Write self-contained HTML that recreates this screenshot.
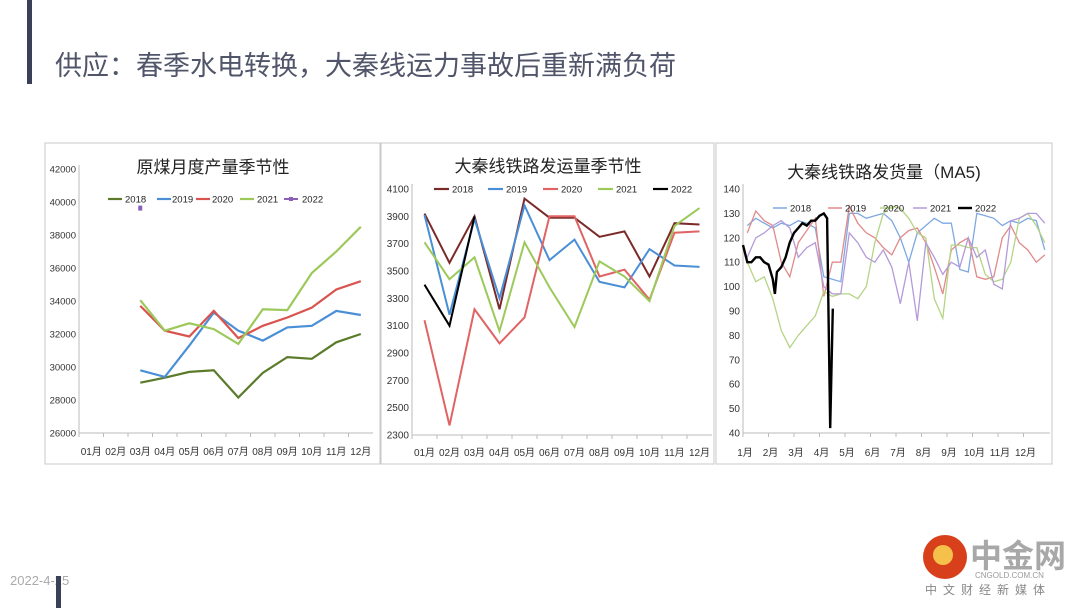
<!DOCTYPE html>
<html><head><meta charset="utf-8">
<style>
body{margin:0;background:#fff;}
#wrap{position:relative;width:1080px;height:608px;overflow:hidden;background:#fff;font-family:"Liberation Sans","Noto Sans CJK SC",sans-serif;}
svg text{font-family:"Liberation Sans","Noto Sans CJK SC",sans-serif;}
</style></head>
<body>
<div id="wrap">
<svg id="svg" width="1080" height="608" viewBox="0 0 1080 608">
  <rect x="27" y="0" width="5" height="84" fill="#3b3f58"/>
  <text x="55" y="75" font-size="27" fill="#50556a">供应：春季水电转换，大秦线运力事故后重新满负荷</text>
  <text x="10" y="585" font-size="13" fill="#aaa">2022-4-25</text>
  <rect x="56" y="576" width="5" height="32" fill="#3b3f58"/>
  <g>
    <circle cx="945" cy="557" r="22" fill="#d8401c"/>
    <circle cx="943" cy="555" r="10" fill="#f6c14a"/>
    <text x="970" y="567" font-size="32" font-weight="bold" fill="#a8a8a8">中金网</text>
    <text x="975" y="578" font-size="8" fill="#999">CNGOLD.COM.CN</text>
    <text x="925" y="594" font-size="12" fill="#888" letter-spacing="6">中文财经新媒体</text>
  </g>
  <rect x="45" y="143" width="335" height="321" fill="none" stroke="#c8c8c8"/>
  <rect x="381" y="143" width="333" height="321" fill="none" stroke="#c8c8c8"/>
  <rect x="716" y="143" width="336" height="321" fill="none" stroke="#c8c8c8"/>
  <g id="c1"></g><g id="c2"></g><g id="c3"></g>
</svg>
</div>
<script>
// ---- Chart 1 data: 原煤月度产量季节性 ----
const c1Months = ["01月","02月","03月","04月","05月","06月","07月","08月","09月","10月","11月","12月"];
const c1Ticks = [26000,28000,30000,32000,34000,36000,38000,40000,42000];
const c1Years = ["2018","2019","2020","2021","2022"];
const c1y2018 = [null,null,29050,29350,29700,29800,28150,29650,30600,30500,31500,32000];
const c1y2019 = [null,null,29800,29400,31300,33300,32200,31600,32400,32500,33400,33150];
const c1y2020 = [null,null,33700,32200,31850,33400,31750,32500,33000,33600,34700,35200];
const c1y2021 = [null,null,34050,32200,32650,32300,31400,33500,33450,35700,37000,38500];
const c1y2022 = [null,null,39600,null,null,null,null,null,null,null,null,null];
// ---- Chart 2 data: 大秦线铁路发运量季节性 ----
const c2Months = ["01月","02月","03月","04月","05月","06月","07月","08月","09月","10月","11月","12月"];
const c2Ticks = [2300,2500,2700,2900,3100,3300,3500,3700,3900,4100];
const c2Years = ["2018","2019","2020","2021","2022"];
const c2y2018 = [3920,3560,3900,3220,4030,3890,3890,3750,3790,3460,3850,3840];
const c2y2019 = [3910,3180,3880,3300,3980,3580,3730,3420,3380,3660,3540,3530];
const c2y2020 = [3140,2370,3220,2970,3160,3900,3900,3460,3510,3290,3780,3790];
const c2y2021 = [3710,3440,3600,3060,3710,3380,3090,3570,3460,3280,3830,3960];
const c2y2022 = [3400,3100,3900];
// ---- Chart 3 data: 大秦线铁路发货量（MA5) (3 samples per month) ----
const c3Months = ["1月","2月","3月","4月","5月","6月","7月","8月","9月","10月","11月","12月"];
const c3Ticks = [40,50,60,70,80,90,100,110,120,130,140];
const c3Years = ["2018","2019","2020","2021","2022"];
const c3y2018 = [125,128,126,124,126,125,127,126,124,104,103,102,130,130,128,129,130,127,120,110,122,125,128,126,126,107,106,130,129,128,125,127,126,128,127,115];
const c3y2019 = [122,131,127,125,110,104,118,123,128,96,110,110,133,126,122,120,116,113,120,123,124,118,108,97,115,118,120,104,103,104,120,125,118,115,110,113];
const c3y2020 = [110,102,104,95,82,75,80,84,88,98,96,97,97,95,100,118,130,133,132,128,122,120,95,87,117,117,116,116,105,102,103,110,128,130,125,118];
const c3y2021 = [112,120,122,125,127,124,112,116,118,100,97,97,122,118,112,110,115,108,93,110,86,118,112,105,110,108,120,112,115,101,99,127,128,130,130,126];
const c3t2022 = [0,0.17,0.33,0.5,0.67,0.83,1.0,1.17,1.25,1.33,1.5,1.67,1.83,2.0,2.17,2.33,2.5,2.67,2.83,3.0,3.17,3.3,3.42,3.52];
const c3y2022 = [117,110,110,112,112,110,109,103,97,106,108,112,118,122,124,126,125,127,127,129,130,128,42,91];

const NS="http://www.w3.org/2000/svg";
function mk(parent,tag,attrs,text){const e=document.createElementNS(NS,tag);for(const k in attrs)e.setAttribute(k,attrs[k]);if(text!==undefined)e.textContent=text;parent.appendChild(e);return e;}
function poly(vals,xf,yf){let pts=[];vals.forEach((v,i)=>{if(v!==null)pts.push(xf(i).toFixed(1)+","+yf(v).toFixed(1));});return pts.join(" ");}

// ===== Chart 1 =====
(function(){
const g=document.getElementById('c1');
const x0=79,x1=373,yTop=169,yBot=433,vmin=26000,vmax=42000;
const bw=(x1-x0)/12;
const X=i=>x0+bw*(i+0.5);
const Y=v=>yBot-(v-vmin)/(vmax-vmin)*(yBot-yTop);
let t=mk(g,'text',{x:213,y:173,'font-size':17,'text-anchor':'middle',fill:'#222'},'原煤月度产量季节性');


let ax=mk(g,'line',{x1:x0,y1:yTop-4,x2:x0,y2:yBot,stroke:'#bbb'});


let bx=mk(g,'line',{x1:x0,y1:yBot,x2:x1,y2:yBot,stroke:'#bbb'});


c1Ticks.forEach(v=>{
 let l=mk(g,'text',{x:x0-3,y:Y(v)+3.5,'font-size':9.5,'text-anchor':'end',fill:'#333'},String(v));
 
 
});
c1Months.forEach((m,i)=>{
 let tk=mk(g,'line',{x1:x0+bw*i,y1:yBot,x2:x0+bw*i,y2:yBot+4,stroke:'#bbb'});
 
 
 let l=mk(g,'text',{x:X(i),y:455,'font-size':10,'text-anchor':'middle',fill:'#333'},m);
 
 
});
const series=[c1y2018,c1y2019,c1y2020,c1y2021];
const cols=['#5b7b2b','#4a8fd6','#d9534f','#9cc95a'];
const names=['line-2018','line-2019','line-2020','line-2021'];
series.forEach((s,k)=>{
 let p=mk(g,'polyline',{points:poly(s,X,Y),fill:'none',stroke:cols[k],'stroke-width':2.2});
 
 
});
c1y2022.forEach((v,i)=>{if(v!==null){
 let r=mk(g,'rect',{x:X(i)-2,y:Y(v)-3,width:4,height:5,fill:'#8a5fb8'});
 
 
}});
const lx=[108,157,196,240],tx=[125,172,212,257];
c1Years.forEach((yr,k)=>{
 if(k<4){let l=mk(g,'line',{x1:lx[k],y1:199,x2:lx[k]+14,y2:199,stroke:cols[k],'stroke-width':2.2});
 
 }
 else{let l=mk(g,'line',{x1:284,y1:199,x2:298,y2:199,stroke:'#8a5fb8','stroke-width':2});
 
 
 let r=mk(g,'rect',{x:289,y:197,width:4,height:4,fill:'#8a5fb8'});
 
 }
 let e=mk(g,'text',{x:k<4?tx[k]:302,y:202.5,'font-size':9.5,fill:'#222'},yr);
 
 
});
})();

// ===== Chart 2 =====
(function(){
const g=document.getElementById('c2');
const x0=412,x1=712,yTop=189,yBot=435,vmin=2300,vmax=4100;
const bw=(x1-x0)/12;
const X=i=>x0+bw*(i+0.5);
const Y=v=>yBot-(v-vmin)/(vmax-vmin)*(yBot-yTop);
let t=mk(g,'text',{x:548,y:172,'font-size':17,'text-anchor':'middle',fill:'#222'},'大秦线铁路发运量季节性');


let ax=mk(g,'line',{x1:x0,y1:yTop-5,x2:x0,y2:yBot,stroke:'#bbb'});


let bx=mk(g,'line',{x1:x0,y1:yBot,x2:x1,y2:yBot,stroke:'#bbb'});


c2Ticks.forEach(v=>{
 let l=mk(g,'text',{x:x0-3,y:Y(v)+3.5,'font-size':10,'text-anchor':'end',fill:'#333'},String(v));
 
 
});
c2Months.forEach((m,i)=>{
 let tk=mk(g,'line',{x1:x0+bw*i,y1:yBot,x2:x0+bw*i,y2:yBot+4,stroke:'#bbb'});
 
 
 let l=mk(g,'text',{x:X(i),y:456,'font-size':10,'text-anchor':'middle',fill:'#333'},m);
 
 
});
const series=[c2y2018,c2y2019,c2y2020,c2y2021,c2y2022];
const cols=['#7b2a2a','#4a8fd6','#e06464','#9cc95a','#000'];
series.forEach((s,k)=>{
 let p=mk(g,'polyline',{points:poly(s,X,Y),fill:'none',stroke:cols[k],'stroke-width':2});
 
 
});
const lx=[434,488,543,598,653];
c2Years.forEach((yr,k)=>{
 let l=mk(g,'line',{x1:lx[k],y1:189,x2:lx[k]+15,y2:189,stroke:cols[k],'stroke-width':2.2});
 
 
 let e=mk(g,'text',{x:lx[k]+18,y:192.5,'font-size':9.5,fill:'#222'},yr);
 
 
});
})();

// ===== Chart 3 =====
(function(){
const g=document.getElementById('c3');
const x0=743,x1=1050,yTop=189,yBot=433,vmin=40,vmax=140;
const mw=25.5;
const T=t=>x0+t*mw;
const Xs=i=>T((i+0.5)/3);
const Y=v=>yBot-(v-vmin)/(vmax-vmin)*(yBot-yTop);
let t=mk(g,'text',{x:884,y:178,'font-size':17,'text-anchor':'middle',fill:'#222'},'大秦线铁路发货量（MA5)');


let ax=mk(g,'line',{x1:x0,y1:yTop-5,x2:x0,y2:yBot,stroke:'#bbb'});


let bx=mk(g,'line',{x1:x0,y1:yBot,x2:x1,y2:yBot,stroke:'#bbb'});


c3Ticks.forEach(v=>{
 let l=mk(g,'text',{x:x0-3,y:Y(v)+3.5,'font-size':10,'text-anchor':'end',fill:'#333'},String(v));
 
 
});
c3Months.forEach((m,i)=>{
 let tk=mk(g,'line',{x1:T(i),y1:yBot,x2:T(i),y2:yBot+4,stroke:'#bbb'});
 
 
 let l=mk(g,'text',{x:T(i)+2,y:456,'font-size':10,'text-anchor':'middle',fill:'#333'},m);
 
 
});
const series=[c3y2018,c3y2019,c3y2020,c3y2021];
const cols=['#7ea8e2','#e28a8a','#b4d486','#b49ad8'];
series.forEach((s,k)=>{
 let p=mk(g,'polyline',{points:poly(s,Xs,Y),fill:'none',stroke:cols[k],'stroke-width':1.3});
 
 
});
let pts=c3y2022.map((v,i)=>T(c3t2022[i]).toFixed(1)+","+Y(v).toFixed(1)).join(" ");
let p=mk(g,'polyline',{points:pts,fill:'none',stroke:'#000','stroke-width':2.4});


const lx=[773,828,880,913,958];
const lc=cols.concat(['#000']);
c3Years.forEach((yr,k)=>{
 let l=mk(g,'line',{x1:lx[k],y1:208,x2:lx[k]+14,y2:208,stroke:lc[k],'stroke-width':k==4?2.4:1.5});
 
 
 let e=mk(g,'text',{x:k==2?883:lx[k]+17,y:211.5,'font-size':9.5,fill:'#222'},yr);
 
 
});
})();
</script>
</body></html>
